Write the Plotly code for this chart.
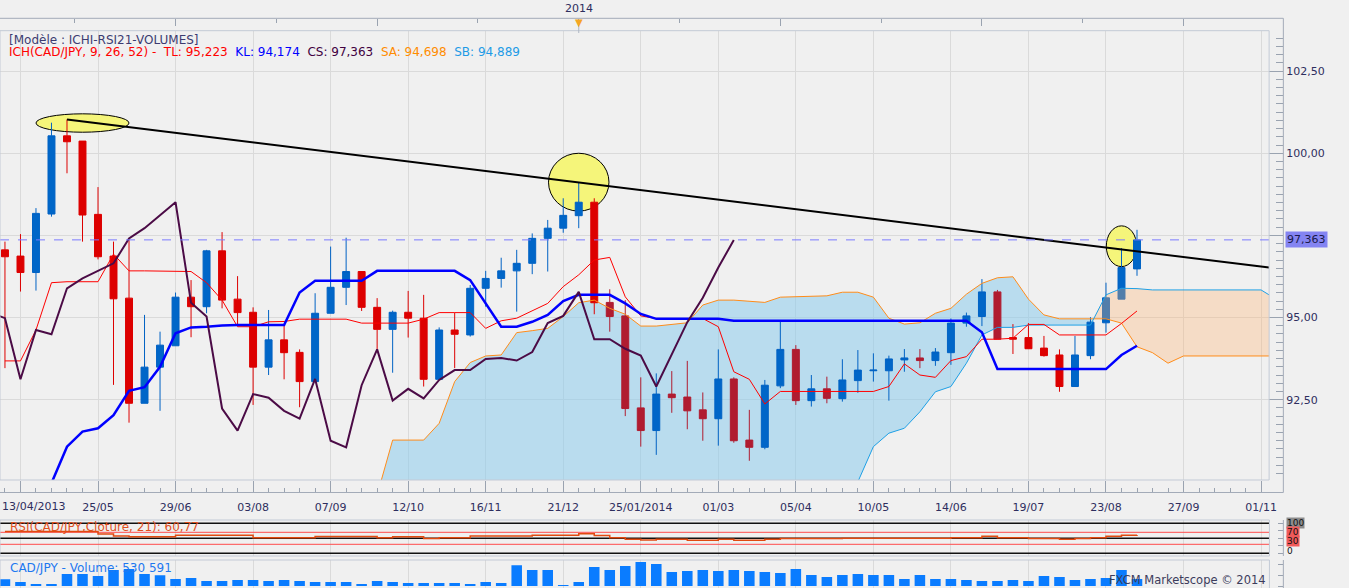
import plotly.graph_objects as go

W, H = 1349, 588

# ------- weekly CAD/JPY candles, index 0 = week of 13/04/2013 ------- #
opens = [97.06, 96.87, 96.37, 98.15, 100.53, 100.37, 98.14, 96.87, 95.59, 92.39,
         93.49, 94.14, 95.62, 95.33, 97.03, 95.56, 95.16, 93.49, 94.32, 93.94,
         93.05, 95.13, 95.92, 96.40, 95.31, 94.64, 95.16, 94.98, 93.12, 94.62,
         94.47, 95.89, 96.19, 96.42, 96.65, 97.41, 97.72, 98.10, 98.51, 95.46,
         95.05, 92.25, 91.56, 92.67, 92.58, 92.19, 91.92, 93.13, 91.27, 91.05,
         92.92, 94.03, 92.47, 92.83, 92.53, 93.08, 93.38, 93.38, 93.71, 93.77,
         93.69, 93.93, 94.83, 95.03, 95.78, 94.39, 94.39, 94.07, 93.86, 92.90,
         93.84, 94.84, 95.56, 96.48]
highs = [97.31, 97.54, 98.33, 100.93, 101.03, 100.37, 98.97, 97.31, 97.38, 95.08,
         94.57, 95.76, 96.14, 97.06, 97.60, 96.26, 95.31, 95.23, 94.80, 94.03,
         95.74, 97.16, 97.43, 96.40, 95.59, 95.21, 95.81, 95.69, 94.70, 95.15,
         95.99, 96.42, 96.82, 97.06, 97.56, 97.97, 98.63, 99.11, 98.63, 95.86,
         95.53, 93.18, 93.30, 93.37, 93.68, 92.72, 94.03, 93.18, 92.19, 93.10,
         94.87, 94.16, 93.25, 93.20, 93.73, 94.01, 93.91, 93.84, 94.04, 94.04,
         94.07, 94.97, 95.15, 96.17, 95.84, 94.80, 94.83, 94.44, 94.03, 94.44,
         95.01, 96.06, 97.11, 97.67]
lows = [93.46, 95.79, 95.82, 98.07, 99.39, 97.31, 96.77, 92.95, 91.80, 92.39,
        92.16, 94.14, 94.40, 95.13, 95.28, 94.80, 92.34, 93.25, 93.12, 92.27,
        93.05, 95.13, 95.38, 95.20, 94.01, 93.32, 94.39, 92.90, 93.12, 93.46,
        94.42, 95.33, 95.91, 95.18, 96.32, 96.40, 97.58, 97.72, 95.10, 94.57,
        92.00, 91.07, 90.82, 92.10, 91.60, 91.25, 91.10, 91.19, 90.64, 90.99,
        92.85, 92.34, 92.29, 92.39, 92.44, 92.71, 93.05, 92.47, 93.35, 93.46,
        93.53, 93.56, 94.72, 94.74, 94.34, 93.89, 94.05, 93.81, 92.74, 92.90,
        93.73, 94.54, 95.56, 96.27]
closes = [96.85, 96.37, 98.17, 100.53, 100.35, 98.12, 96.85, 95.57, 92.39, 93.49,
          94.16, 95.62, 95.33, 97.03, 95.53, 95.15, 93.49, 94.32, 93.93, 93.05,
          95.13, 95.92, 96.40, 95.31, 94.64, 95.16, 94.98, 93.12, 94.62, 94.49,
          95.89, 96.19, 96.42, 96.65, 97.41, 97.72, 98.11, 98.51, 95.45, 95.03,
          92.23, 91.56, 92.67, 92.56, 92.16, 91.92, 93.13, 91.25, 91.05, 92.94,
          94.03, 92.47, 92.83, 92.54, 93.10, 93.40, 93.40, 93.74, 93.77, 93.69,
          93.95, 94.83, 95.05, 95.78, 94.34, 94.34, 94.05, 93.84, 92.90, 93.86,
          94.86, 95.60, 96.52, 97.363]
weeks = list(range(len(closes)))

# ------- Ichimoku lines as drawn (None = off the chart) ------- #
tenkan = [93.68, 93.68, 94.62, 96.06, 96.09, 96.09, 96.09, 96.93, 96.42, 96.42,
          96.42, 96.42, 96.40, 96.06, 95.53, 94.72, 94.72, 94.87, 94.88, 94.95,
          94.95, 94.95, 94.95, 94.83, 94.83, 94.83, 94.83, 94.95, 95.15, 95.15,
          95.15, 94.67, 94.90, 94.98, 95.21, 95.43, 95.94, 96.30, 96.75, 96.83,
          95.63, 95.05, 94.97, 94.97, 94.97, 94.97, 94.72, 93.35, 93.12, 92.37,
          92.75, 92.75, 92.75, 92.75, 92.75, 92.75, 92.75, 92.90, 93.59, 93.25,
          93.18, 93.69, 93.81, 94.34, 94.34, 94.37, 94.79, 94.79, 94.47, 94.47,
          94.47, 94.47, 94.82, 95.20]
kijun = [None, None, None, 89.96, 91.07, 91.53, 91.63, 92.03, 92.77, 92.88,
         93.50, 94.52, 94.70, 94.72, 94.76, 94.77, 94.77, 94.77, 94.77, 95.76,
         96.12, 96.12, 96.12, 96.12, 96.42, 96.42, 96.42, 96.42, 96.42, 96.42,
         96.14, 95.43, 94.72, 94.72, 94.87, 95.08, 95.50, 95.69, 95.69, 95.69,
         95.43, 95.11, 94.96, 94.96, 94.96, 94.96, 94.96, 94.90, 94.90, 94.90,
         94.90, 94.90, 94.90, 94.90, 94.90, 94.90, 94.90, 94.90, 94.90, 94.90,
         94.90, 94.90, 94.90, 94.55, 93.43, 93.43, 93.43, 93.43, 93.43, 93.43,
         93.43, 93.43, 93.86, 94.14]
cloud_x = list(range(24, 83))
senkou_a = [89.60, 91.27, 91.27, 91.27, 91.78, 93.05, 93.63, 93.83, 93.86, 94.54,
            94.60, 94.67, 95.03, 95.45, 95.53, 95.28, 95.10, 94.74, 94.74, 94.80,
            94.84, 95.38, 95.53, 95.53, 95.50, 95.46, 95.62, 95.64, 95.64, 95.66,
            95.77, 95.77, 95.62, 94.98, 94.80, 94.84, 95.13, 95.28, 95.71, 96.04,
            96.21, 96.24, 95.56, 95.08, 94.96, 94.96, 94.96, 94.96, 94.83, 94.11,
            93.93, 93.61, 93.83, 93.83, 93.83, 93.83, 93.83, 93.83, 93.83]
senkou_b = [None, None, None, None, None, None, None, None, None, None,
            None, None, None, None, None, None, None, None, None, None,
            None, None, None, None, None, None, None, None, None, None,
            None, 90.00, 91.07, 91.48, 91.63, 92.13, 92.74, 92.90, 93.61, 94.47,
            94.70, 94.70, 94.77, 94.77, 94.77, 94.77, 94.77, 95.69, 95.89, 95.88,
            95.84, 95.84, 95.84, 95.84, 95.84, 95.84, 95.84, 95.84, 95.55]

# ------- RSI(21) and volume (thousands) ------- #
rsi = [72.5, 72.5, 72.5, 72.5, 72.5, 72.5, 64, 58, 55, 55,
       55, 60, 60, 60, 60, 60, 52, 52, 52, 52,
       56, 56, 56, 56, 52, 55, 55, 49, 52, 52,
       58, 58, 58, 58, 60, 60, 60, 65, 59, 52,
       47, 44, 46.7, 46.7, 43.3, 43.3, 46.7, 43.3, 43.3, 46.7,
       49.5, 49.5, 49.5, 49.5, 50.5, 50.5, 50.5, 50.5, 50.5, 50.5,
       50.5, 52.2, 52.2, 56.7, 52.2, 52.2, 49, 49, 46.7, 49,
       52.2, 56.7, 60.5, 60.77]
volume = [509, 304, 152, 152, 912, 912, 760, 1216, 1292, 912,
          813, 532, 608, 380, 380, 456, 456, 380, 456, 380,
          304, 304, 304, 152, 380, 304, 228, 228, 228, 228,
          152, 304, 228, 1573, 1216, 1216, 76, 304, 1444, 1216,
          1520, 1824, 1672, 1064, 1140, 1216, 1140, 1216, 1140, 1064,
          988, 1292, 836, 684, 836, 912, 836, 836, 532, 836,
          532, 532, 456, 380, 380, 456, 380, 760, 684, 456,
          532, 608, 1216, 531]

tick_pos = [1, 6, 11, 16, 21, 26, 31, 36, 41, 46, 51, 56, 61, 66, 71, 76, 81]
tick_text = ["", "25/05", "29/06", "03/08", "07/09", "12/10", "16/11", "21/12",
             "25/01/2014", "01/03", "05/04", "10/05", "14/06", "19/07", "23/08",
             "27/09", "01/11"]
quarter_ticks = [11, 24, 37, 50, 63, 76]          # top strip, long ticks
half_quarter_ticks = [4.5, 17.5, 30.5, 43.5, 56.5, 69.5, 82.5]
year_week = 37                                    # week holding 01/01/2014
price_ticks = [92.5, 95.0, 97.5, 100.0, 102.5]
price_text = ["92,50", "95,00", "", "100,00", "102,50"]

# highlight ellipses: centre week, centre price, half width (weeks), half height
highlights = [(5.0, 100.92, 3.0, 0.28), (37.0, 99.12, 1.95, 0.88), (72.0, 97.17, 0.98, 0.62)]

X_RANGE = [-0.32, 81.52]
Y_RANGE = [90.055, 103.73]
FONT = "DejaVu Sans"
NAVY = "#2e2e5e"


def px(x):
    return x / W


def py(y):
    return 1 - y / H


# ------- cloud polygons (blue where A above B, orange where B above A) ------- #
floor = Y_RANGE[0] - 1
b_full = [floor if v is None else v for v in senkou_b]
pts = []
for k in range(len(cloud_x)):
    if k:
        d0 = senkou_a[k - 1] - b_full[k - 1]
        d1 = senkou_a[k] - b_full[k]
        if d0 * d1 < 0:
            t = d0 / (d0 - d1)
            xc = cloud_x[k - 1] + t * (cloud_x[k] - cloud_x[k - 1])
            yc = senkou_a[k - 1] + t * (senkou_a[k] - senkou_a[k - 1])
            pts.append((xc, yc, yc))
    pts.append((cloud_x[k], senkou_a[k], b_full[k]))
cx = [p[0] for p in pts]
ctop = [max(p[1], p[2]) for p in pts]
blue_bot = [p[2] for p in pts]
orange_bot = [p[1] for p in pts]


def span(i):
    j = i - cloud_x[0]
    if j < 0 or j >= len(cloud_x):
        return None
    a, b = senkou_a[j], b_full[j]
    return (b, a) if a >= b else None


# red candles sitting in the blue cloud are drawn darker
dark = []
for i in weeks:
    s = span(i)
    mid = (opens[i] + closes[i]) / 2
    if closes[i] < opens[i] and s and s[0] < mid < s[1]:
        dark.append(i)
normal = [i for i in weeks if i not in dark]

fig = go.Figure()

# base layer: blue cloud
fig.add_trace(go.Scatter(x=cx + cx[::-1], y=ctop + blue_bot[::-1], fill="toself",
                         fillcolor="rgba(140,204,236,0.55)", line=dict(width=0),
                         mode="lines", hoverinfo="skip", xaxis="x", yaxis="y"))

# candles
fig.add_trace(go.Candlestick(
    x=normal, open=[opens[i] for i in normal], high=[highs[i] for i in normal],
    low=[lows[i] for i in normal], close=[closes[i] for i in normal],
    increasing=dict(line=dict(color="#0062c4", width=1), fillcolor="#0066c8"),
    decreasing=dict(line=dict(color="#dd0000", width=1), fillcolor="#dd0000"),
    xaxis="x", yaxis="y4"))
fig.add_trace(go.Candlestick(
    x=dark, open=[opens[i] for i in dark], high=[highs[i] for i in dark],
    low=[lows[i] for i in dark], close=[closes[i] for i in dark],
    increasing=dict(line=dict(color="#0062c4", width=1), fillcolor="#0066c8"),
    decreasing=dict(line=dict(color="#b01c30", width=1), fillcolor="#b01c30"),
    xaxis="x", yaxis="y4"))

# top layer: orange cloud and lines
fig.add_trace(go.Scatter(x=cx + cx[::-1], y=ctop + orange_bot[::-1], fill="toself",
                         fillcolor="rgba(255,176,110,0.32)", line=dict(width=0),
                         mode="lines", hoverinfo="skip", xaxis="x", yaxis="y5"))
fig.add_trace(go.Scatter(x=cloud_x, y=senkou_a, mode="lines",
                         line=dict(color="#ff8c1a", width=1), xaxis="x", yaxis="y5"))
fig.add_trace(go.Scatter(x=cloud_x, y=senkou_b, mode="lines",
                         line=dict(color="#1ea0e6", width=1), xaxis="x", yaxis="y5"))
fig.add_trace(go.Scatter(x=weeks, y=tenkan, mode="lines",
                         line=dict(color="#ff0000", width=1), xaxis="x", yaxis="y5"))
fig.add_trace(go.Scatter(x=weeks, y=kijun, mode="lines",
                         line=dict(color="#0000ff", width=2.5), xaxis="x", yaxis="y5"))
chikou_x = [i - 26 for i in range(25, len(closes))]
fig.add_trace(go.Scatter(x=chikou_x, y=closes[25:], mode="lines",
                         line=dict(color="#4b0b46", width=2), xaxis="x", yaxis="y5"))

# trend line through the two highs
slope = (highs[37] - highs[4]) / (37 - 4)
fig.add_trace(go.Scatter(x=[4, X_RANGE[1]],
                         y=[highs[4], highs[4] + slope * (X_RANGE[1] - 4)],
                         mode="lines", line=dict(color="#000000", width=2),
                         xaxis="x", yaxis="y5"))
fig.add_trace(go.Scatter(x=X_RANGE, y=[closes[-1], closes[-1]], mode="lines",
                         line=dict(color="#7b7bff", width=1, dash="dash"),
                         xaxis="x", yaxis="y5"))

# empty trace carrying the top time strip axis
fig.add_trace(go.Scatter(x=[], y=[], xaxis="x4", yaxis="y5", hoverinfo="skip"))

# RSI levels then RSI line
for lvl, col, wd in [(100, "#111111", 1.5), (70, "#ff4b4b", 1), (50, "#111111", 1.5),
                     (30, "#ff4b4b", 1), (0, "#111111", 1.5)]:
    fig.add_trace(go.Scatter(x=X_RANGE, y=[lvl, lvl], mode="lines",
                             line=dict(color=col, width=wd), xaxis="x2", yaxis="y2"))
fig.add_trace(go.Scatter(x=weeks, y=rsi, mode="lines", line_shape="hv",
                         line=dict(color="#e04a10", width=1.5), xaxis="x2", yaxis="y2"))
# volume
fig.add_trace(go.Bar(x=weeks, y=volume, width=0.68, marker=dict(color="#0a7cff", line=dict(width=0)),
                     xaxis="x3", yaxis="y3"))

grid = "#dadada"
tickc = "#9aa3b0"
xcommon = dict(range=X_RANGE, domain=[0, px(1276.7)], tickmode="array", tickvals=tick_pos,
               showgrid=True, gridcolor=grid, zeroline=False, showline=False)

fig.update_layout(
    width=W, height=H, autosize=False, margin=dict(l=0, r=0, t=0, b=0),
    paper_bgcolor="#f0f0f0", plot_bgcolor="#f0f0f0", showlegend=False,
    boxmode="overlay", boxgap=0.36,
    font=dict(family=FONT, size=11, color=NAVY),
    xaxis=dict(xcommon, anchor="free", position=py(492.5), ticktext=tick_text,
               ticks="inside", ticklen=12, tickcolor=tickc, ticklabelstandoff=6,
               tickfont=dict(family=FONT, size=11, color=NAVY),
               minor=dict(tickmode="linear", tick0=0, dtick=1, ticks="inside",
                          ticklen=5, tickcolor=tickc, showgrid=False),
               rangeslider=dict(visible=False)),
    xaxis4=dict(overlaying="x", range=X_RANGE, side="top", anchor="free", position=py(18.3),
                tickmode="array", tickvals=quarter_ticks, ticks="inside", ticklen=7,
                tickcolor=tickc, showticklabels=False, showgrid=False, zeroline=False,
                minor=dict(tickmode="array", tickvals=half_quarter_ticks, ticks="inside",
                           ticklen=3.5, tickcolor=tickc, showgrid=False)),
    yaxis=dict(domain=[py(480), py(30.7)], range=Y_RANGE, side="right", anchor="free",
               position=px(1291), tickmode="array", tickvals=price_ticks, ticktext=price_text,
               ticks="inside", ticklen=14, tickcolor=tickc, showgrid=True, gridcolor=grid,
               zeroline=False, ticklabelstandoff=2,
               tickfont=dict(family=FONT, size=11, color=NAVY),
               minor=dict(tickmode="linear", tick0=0, dtick=0.25, ticks="inside",
                          ticklen=7, tickcolor=tickc, showgrid=False)),
    yaxis4=dict(overlaying="y", range=Y_RANGE, visible=False, anchor="x"),
    yaxis5=dict(overlaying="y", range=Y_RANGE, visible=False, anchor="x"),
    xaxis2=dict(xcommon, anchor="y2", showticklabels=False, ticks=""),
    yaxis2=dict(domain=[py(556), py(520)], range=[-9, 111], anchor="free", position=px(1291),
                side="right", tickmode="array", tickvals=[0, 25, 50, 75, 100], ticks="inside",
                ticklen=5, tickcolor=tickc, showticklabels=False, showgrid=False, zeroline=False),
    xaxis3=dict(xcommon, anchor="y3", showticklabels=False, ticks=""),
    yaxis3=dict(domain=[0, py(560)], range=[-152, 1976], anchor="free", position=px(1291),
                side="right", tickmode="array", tickvals=[0, 800, 1600], ticks="inside",
                ticklen=5, tickcolor=tickc, showticklabels=False, showgrid=False, zeroline=False),
)

inner = "#c3cad6"
outer = "#a3abb8"


def pline(x0, y0, x1, y1, color, width=1):
    fig.add_shape(type="line", xref="paper", yref="paper", x0=px(x0), y0=py(y0),
                  x1=px(x1), y1=py(y1), line=dict(color=color, width=width), layer="above")


def prect(x0, y0, x1, y1, color):
    fig.add_shape(type="rect", xref="paper", yref="paper", x0=px(x0), y0=py(y0),
                  x1=px(x1), y1=py(y1), line=dict(color=color, width=1), layer="above")


pline(0, 18.3, 1291, 18.3, outer)
pline(1291, 18.3, 1291, 492.5, outer)
pline(0, 492.5, 1291, 492.5, outer)
prect(0, 30.7, 1276.7, 480, inner)
prect(0, 520, 1277, 556, inner)
pline(1291, 520, 1291, 556, outer)
prect(0, 560, 1277, 592, inner)
pline(1291, 560, 1291, 590, outer)

# highlight ellipses
for cxh, cyh, rx, ry in highlights:
    fig.add_shape(type="circle", xref="x", yref="y", x0=cxh - rx, x1=cxh + rx,
                  y0=cyh - ry, y1=cyh + ry, fillcolor="#f5f57a",
                  line=dict(color="#000000", width=1), layer="between")


def label(x, y, text, size=12, color=NAVY, xanchor="left", xref="paper", yref="paper", **kw):
    fig.add_annotation(x=x, y=y, xref=xref, yref=yref, xanchor=xanchor, yanchor="middle",
                       text=text, showarrow=False, font=dict(family=FONT, size=size, color=color), **kw)


# year marker on the top strip
label(year_week, py(9), "2014", size=11, xanchor="center", xref="x")
label(year_week, py(23), "\u25bc", size=10, color="#f5a623", xanchor="center", xref="x")
fig.add_shape(type="line", xref="x", yref="paper", x0=year_week, x1=year_week, y0=py(26), y1=py(33),
              line=dict(color="#b0b8c4", width=1))

# legend texts
sp = "\u00a0\u00a0"
label(px(7), py(39.5), "[Modèle : ICHI-RSI21-VOLUMES]", color="#3c3c70")
label(px(7), py(52),
      "<span style='color:#ff0000'>ICH(CAD/JPY, 9, 26, 52) -" + sp + "TL: 95,223</span>" + sp +
      "<span style='color:#0000ff'>KL: 94,174</span>" + sp +
      "<span style='color:#400040'>CS: 97,363</span>" + sp +
      "<span style='color:#ff8c00'>SA: 94,698</span>" + sp +
      "<span style='color:#1e9be6'>SB: 94,889</span>")

label(0, py(506), "13/04/2013", size=11)

# last close box on the price axis
label(px(1292.3), closes[-1], f"{closes[-1]:.3f}".replace(".", ","), size=11, color="#1a1a4a",
      yref="y", bgcolor="#8484f2", borderpad=1)

# RSI axis labels (stacked tightly, as in the source)
for lvl, bg, ypx in [(100, "#8c8c8c", 523), (70, "#f05a5a", 532), (30, "#f05a5a", 541), (0, None, 551)]:
    label(px(1294), py(ypx), str(lvl), size=9, color="#111111", bgcolor=bg, borderpad=0)

label(px(8), py(527), "RSI(CAD/JPY,Cloture, 21): 60,77", color="#e0501e")
label(px(8), py(568), "CAD/JPY - Volume: 530 591", color="#1e78f0")
label(px(1276), py(580), "FXCM Marketscope © 2014", size=11.5, color="#3c3c5c", xanchor="right")

fig.write_html("out.html", config={"displayModeBar": False, "responsive": False},
               post_script=("document.documentElement.style.overflow='hidden';"
                            "document.body.style.overflow='hidden';"
                            "document.body.style.background='#f0f0f0';"
                            "document.body.style.margin='0';"))
